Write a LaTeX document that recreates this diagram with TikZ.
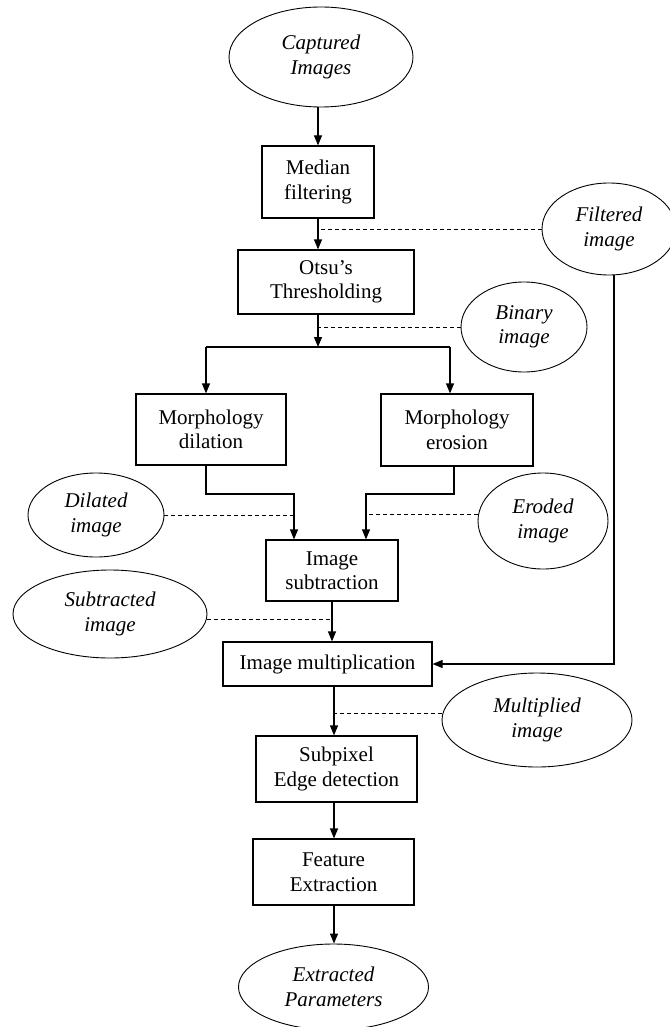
\documentclass[tikz,border=0pt]{standalone}
\usepackage{fontspec}
\setmainfont{Liberation Serif}
\usetikzlibrary{shapes.geometric,arrows.meta}
\begin{document}
\begin{tikzpicture}[x=1pt,y=-1pt,
  every node/.style={font=\fontsize{21}{24.5}\selectfont, align=center, inner sep=0pt},
  procbox/.style={draw, rectangle, line width=1.2pt},
  dataell/.style={draw, ellipse, line width=0.9pt,
    font=\fontsize{21}{24.5}\selectfont\itshape},
  flow/.style={line width=1.2pt, -{Triangle[length=10pt,width=8pt]}},
  link/.style={line width=1.2pt},
  tap/.style={line width=1pt, dash pattern=on 4pt off 3pt}]
\useasboundingbox (0,0) rectangle (669,1027);

% data ellipses
\node[dataell, minimum width=184pt, minimum height=100pt] (cap)    at (321,57)  {Captured\\Images};
\node[dataell, minimum width=134pt, minimum height=92pt]  (filt)   at (609,229) {Filtered\\image};
\node[dataell, minimum width=126pt, minimum height=90pt]  (bin)    at (524,327) {Binary\\image};
\node[dataell, minimum width=136pt, minimum height=84pt]  (dilimg) at (96,515)  {Dilated\\image};
\node[dataell, minimum width=130pt, minimum height=96pt]  (eroimg) at (543,521) {Eroded\\image};
\node[dataell, minimum width=194pt, minimum height=88pt]  (subimg) at (110,614) {Subtracted\\image};
\node[dataell, minimum width=190pt, minimum height=94pt]  (mulimg) at (537,720) {Multiplied\\image};
\node[dataell, minimum width=190pt, minimum height=86pt]  (ext)    at (333.5,987) {Extracted\\Parameters};

% processing steps
\node[procbox, minimum width=112pt, minimum height=72pt] (median) at (318,182)   {Median\\filtering};
\node[procbox, minimum width=176pt, minimum height=64pt] (otsu)   at (326,282)   {Otsu’s\\Thresholding};
\node[procbox, minimum width=150pt, minimum height=71pt] (dil)    at (211,429.5) {Morphology\\dilation};
\node[procbox, minimum width=152pt, minimum height=72pt] (ero)    at (457,430)   {Morphology\\erosion};
\node[procbox, minimum width=132pt, minimum height=61pt] (sub)    at (332,570.5) {Image\\subtraction};
\node[procbox, minimum width=209pt, minimum height=44pt] (mul)    at (327.5,664) {Image multiplication};
\node[procbox, minimum width=161pt, minimum height=66pt] (subpix) at (336.5,769) {Subpixel\\Edge detection};
\node[procbox, minimum width=161pt, minimum height=66pt] (feat)   at (333.5,872) {Feature\\Extraction};

% routing points
\coordinate (split)  at (318,347);
\coordinate (splitL) at (206,347);
\coordinate (splitR) at (450,347);
\coordinate (eroOut) at (454,0);
\coordinate (jl)     at (294,494);
\coordinate (jr)     at (366,494);
\coordinate (fr)     at (614,664);
\coordinate (lowaxis) at (334,0);

% main flow
\draw[flow] (median.north |- cap.south) -- (median.north);
\draw[flow] (median.south) -- (median.south |- otsu.north);
\draw[flow] (split |- otsu.south) -- (split);
\draw[link] (splitL) -- (splitR);
\draw[flow] (splitL) -- (splitL |- dil.north);
\draw[flow] (splitR) -- (splitR |- ero.north);
\draw[flow] (splitL |- dil.south) |- (jl) -- (jl |- sub.north);
\draw[flow] (eroOut |- ero.south) |- (jr) -- (jr |- sub.north);
\draw[flow] (sub.south) -- (sub.south |- mul.north);
\draw[flow] (fr |- filt.south) -- (fr) -- (mul.east);
\draw[flow] (lowaxis |- mul.south) -- (lowaxis |- subpix.north);
\draw[flow] (lowaxis |- subpix.south) -- (lowaxis |- feat.north);
\draw[flow] (lowaxis |- feat.south) -- (lowaxis |- ext.north);

% intermediate results tapped from the flow
\draw[tap] (filt.west) -- (filt.west -| median.south);
\draw[tap] (bin.west) -- (bin.west -| split);
\draw[tap] (dilimg.east) -- (dilimg.east -| jl);
\draw[tap] (eroimg.174) -- (eroimg.174 -| jr);
\draw[tap] (subimg.357) -- (subimg.357 -| sub.south);
\draw[tap] (mulimg.176) -- (mulimg.176 -| lowaxis);
\end{tikzpicture}
\end{document}
